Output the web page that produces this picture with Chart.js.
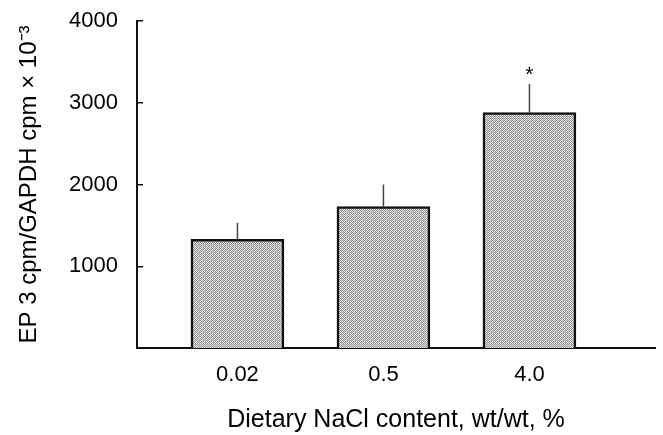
<!DOCTYPE html>
<html>
<head>
<meta charset="utf-8">
<script src="https://cdn.jsdelivr.net/npm/chart.js@4"></script>
<style>
  html, body { margin: 0; padding: 0; background: #fff; }
  #wrap { width: 663px; height: 435px; }
</style>
</head>
<body>
<div id="wrap"><canvas id="c" width="663" height="435"></canvas></div>
<script>
/* ===== data ===== */
const doses    = ['0.02', '0.5', '4.0'];     // dietary NaCl, wt/wt %
const slots    = [1, 2, 3];                  // position of each group on the x scale
const means    = [1330, 1730, 2880];         // EP3 cpm / GAPDH cpm x 10^-3
const sems     = [200, 270, 350];            // upper error bar
const marks    = ['', '', '*'];              // significance
const yTicks   = [1000, 2000, 3000, 4000];

const FONT = '"Liberation Sans", Arial, Helvetica, sans-serif';

/* ===== stippled grey fill ===== */
function stipple () {
  const p = document.createElement('canvas');
  p.width = 4; p.height = 4;
  const g = p.getContext('2d');
  g.fillStyle = '#ececec'; g.fillRect(0, 0, 4, 4);
  g.fillStyle = '#959595';
  [[0,0],[2,0],[1,1],[3,1],[0,2],[2,2],[1,3],[3,3]].forEach(([a, b]) => g.fillRect(a, b, 1, 1));
  g.fillStyle = '#c4c4c4';
  g.fillRect(3, 0, 1, 1);
  g.fillRect(1, 2, 1, 1);
  return g.createPattern(p, 'repeat');
}

/* ===== error bars + asterisk ===== */
const errorBars = {
  id: 'errorBars',
  afterDatasetsDraw (chart) {
    const ctx  = chart.ctx;
    const yS   = chart.scales.y;
    const meta = chart.getDatasetMeta(0);
    ctx.save();
    meta.data.forEach((bar, i) => {
      const top = yS.getPixelForValue(means[i] + sems[i]);
      ctx.strokeStyle = '#444';
      ctx.lineWidth = 1.5;
      ctx.beginPath();
      ctx.moveTo(bar.x, bar.y);
      ctx.lineTo(bar.x, top);
      ctx.stroke();
      if (marks[i]) {
        ctx.fillStyle = '#000';
        ctx.font = '21px ' + FONT;
        ctx.textAlign = 'center';
        ctx.textBaseline = 'alphabetic';
        ctx.fillText(marks[i], bar.x, top - 3);
      }
    });
    ctx.restore();
  }
};

/* ===== chart ===== */
new Chart(document.getElementById('c'), {
  type: 'bar',
  data: {
    datasets: [{
      data: slots.map((x, i) => ({ x, y: means[i] })),
      backgroundColor: stipple(),
      borderColor: '#111',
      borderWidth: 2.5,
      barThickness: 93
    }]
  },
  options: {
    responsive: false,
    animation: false,
    layout: { padding: { top: 21, right: 8, left: 0, bottom: 0 } },
    plugins: { legend: { display: false }, tooltip: { enabled: false } },
    scales: {
      x: {
        type: 'linear',
        offset: false,
        min: 0.312,
        max: 3.86,
        afterBuildTicks: s => { s.ticks = slots.map(v => ({ value: v })); },
        afterFit: s => { s.height = 87; s.paddingLeft = 0; s.paddingRight = 0; },
        grid: { display: false, drawTicks: false },
        border: { display: true, color: '#111', width: 2 },
        ticks: {
          padding: 14,
          color: '#000',
          font: { family: FONT, size: 22 },
          callback: v => doses[slots.indexOf(v)] ?? ''
        },
        title: {
          display: true,
          text: 'Dietary NaCl content, wt/wt, %',
          color: '#000',
          font: { family: FONT, size: 25 },
          padding: { top: 0, bottom: 0 }
        }
      },
      y: {
        min: 0,
        max: 4000,
        afterBuildTicks: s => { s.ticks = yTicks.map(v => ({ value: v })); },
        afterFit: s => { s.width = 137; s.paddingTop = 0; s.paddingBottom = 0; },
        grid: { drawOnChartArea: false, drawTicks: true, tickLength: -6, color: '#111', lineWidth: 1.5 },
        border: { display: true, color: '#111', width: 2 },
        ticks: {
          padding: 25,
          color: '#000',
          font: { family: FONT, size: 22 },
          callback: v => String(v)
        },
        title: {
          display: true,
          text: 'EP 3 cpm/GAPDH cpm \u00d7 10\u207b\u00b3',
          color: '#000',
          font: { family: FONT, size: 24 },
          padding: { top: 15, bottom: 0 }
        }
      }
    }
  },
  plugins: [errorBars]
});
</script>
</body>
</html>
